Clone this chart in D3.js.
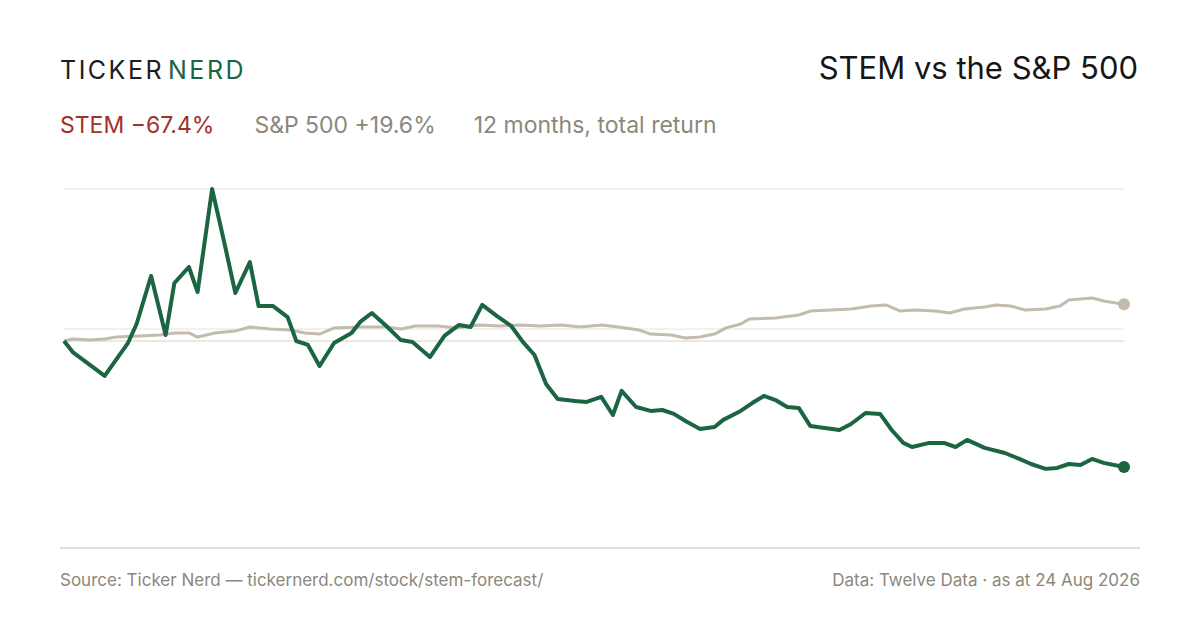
<!DOCTYPE html>
<html lang="en">
<head>
<meta charset="UTF-8">
<title>STEM vs the S&amp;P 500</title>
<script src="https://d3js.org/d3.v7.min.js"></script>
<style>
  body { margin: 0; background: #fff; }
  text { font-family: Inter, "Noto Sans", sans-serif; }
</style>
</head>
<body>
<svg width="1200" height="630"></svg>
<script>
// days since start (0..365) and total return in %
const stemDays = [0,3,14,22,25,30,35,38,43,46,51,55,59,64,67,72,77,80,84,88,93,99,102,106,111,116,120,126,131,136,140,144,149,154,158,162,166,170,176,180,185,189,192,197,202,206,210,214,219,224,227,233,237,241,245,249,253,257,262,267,271,276,281,285,289,292,298,303,307,311,317,324,329,333,338,342,346,350,354,358,365];
const stemValues = [0,-5.9,-18.7,-1.1,9.1,34.8,3.2,31.0,39.6,26.2,81.3,54.0,25.7,42.2,18.7,18.7,12.8,0,-2.1,-13.4,-1.1,4.3,10.2,15.0,8.0,0.5,-0.5,-8.6,2.7,8.6,7.5,19.3,13.4,8.0,-0.5,-7.5,-23.0,-31.0,-32.1,-32.6,-29.9,-39.6,-26.7,-35.3,-37.4,-36.9,-39.0,-42.8,-47.1,-46.0,-42.2,-37.4,-33.2,-29.4,-31.6,-35.3,-35.8,-45.5,-46.5,-47.6,-44.4,-38.5,-39.0,-47.6,-54.5,-56.7,-54.5,-54.5,-56.7,-52.9,-57.2,-59.9,-63.1,-65.8,-68.4,-67.9,-65.8,-66.3,-63.1,-65.2,-67.4];
const spxDays = [0,3,9,14,18,26,33,38,43,46,52,59,64,71,78,83,88,93,102,111,116,121,129,135,143,150,157,164,171,178,185,191,198,202,209,214,219,224,228,233,236,245,253,257,264,271,278,283,288,293,300,305,310,317,321,326,331,338,343,346,354,358,365];
const spxValues = [0,1.1,0.5,1.1,2.1,2.7,3.2,4.3,4.3,2.1,4.3,5.3,7.5,6.4,5.9,4.3,3.7,7.0,7.5,7.5,6.4,8.0,8.0,7.0,8.6,8.0,8.6,8.0,8.6,7.5,8.6,7.5,5.9,3.7,3.2,1.6,2.1,3.7,7.0,9.1,11.8,12.3,13.9,16.0,16.6,17.1,18.7,19.3,16.0,16.6,16.0,15.0,17.1,18.2,19.3,18.7,16.6,17.1,18.7,21.9,23.0,21.4,19.6];
const gridValues = [81.3, 6.4];

const stemColor = "#1b6542", spxColor = "#c3bbae", muted = "#8c877b";
const svg = d3.select("svg");

const x = d3.scaleLinear().domain([0, 365]).range([64, 1124]);
const y = d3.scaleLinear().domain([-67.4, 0]).range([467, 341]);

// gridlines
svg.selectAll(".grid").data(gridValues).enter().append("line")
  .attr("x1", 64).attr("x2", 1124)
  .attr("y1", d => y(d)).attr("y2", d => y(d))
  .attr("stroke", "#e7e4de").attr("stroke-width", 1);
svg.append("line").attr("x1", 64).attr("x2", 1124)
  .attr("y1", y(0)).attr("y2", y(0))
  .attr("stroke", "#d6d2c9").attr("stroke-width", 1);

const line = d3.line().x(d => x(d[0])).y(d => y(d[1]));
const spx = d3.zip(spxDays, spxValues);
const stem = d3.zip(stemDays, stemValues);

svg.append("path").datum(spx).attr("d", line)
  .attr("fill", "none").attr("stroke", spxColor).attr("stroke-width", 3)
  .attr("stroke-linejoin", "round");
svg.append("path").datum(stem).attr("d", line)
  .attr("fill", "none").attr("stroke", stemColor).attr("stroke-width", 4)
  .attr("stroke-linejoin", "round");

svg.append("circle").attr("cx", x(spxDays.at(-1))).attr("cy", y(spxValues.at(-1)))
  .attr("r", 6).attr("fill", spxColor);
svg.append("circle").attr("cx", x(stemDays.at(-1))).attr("cy", y(stemValues.at(-1)))
  .attr("r", 6).attr("fill", stemColor);

// header
const logo = svg.append("text").attr("x", 60).attr("y", 79)
  .attr("font-size", 25).attr("letter-spacing", 2.5);
logo.append("tspan").attr("fill", "#1d1d1b").text("TICKER");
logo.append("tspan").attr("fill", "#1b6542").attr("dx", 4).text("NERD");

svg.append("text").attr("x", 1138).attr("y", 79).attr("text-anchor", "end")
  .attr("font-size", 31).attr("fill", "#161616").text("STEM vs the S&P 500");

const sub = svg.append("text").attr("x", 60).attr("y", 133).attr("font-size", 23);
sub.append("tspan").attr("fill", "#a3312a").text("STEM −67.4%");
sub.append("tspan").attr("fill", muted).attr("dx", 40).text("S&P 500 +19.6%");
sub.append("tspan").attr("fill", muted).attr("dx", 38).text("12 months, total return");

// footer
svg.append("line").attr("x1", 60).attr("x2", 1140).attr("y1", 548).attr("y2", 548)
  .attr("stroke", "#d9d5cc").attr("stroke-width", 1.5);
svg.append("text").attr("x", 60).attr("y", 586).attr("font-size", 17).attr("fill", muted)
  .text("Source: Ticker Nerd — tickernerd.com/stock/stem-forecast/");
svg.append("text").attr("x", 1140).attr("y", 586).attr("text-anchor", "end")
  .attr("font-size", 17).attr("fill", muted).text("Data: Twelve Data · as at 24 Aug 2026");
</script>
</body>
</html>
